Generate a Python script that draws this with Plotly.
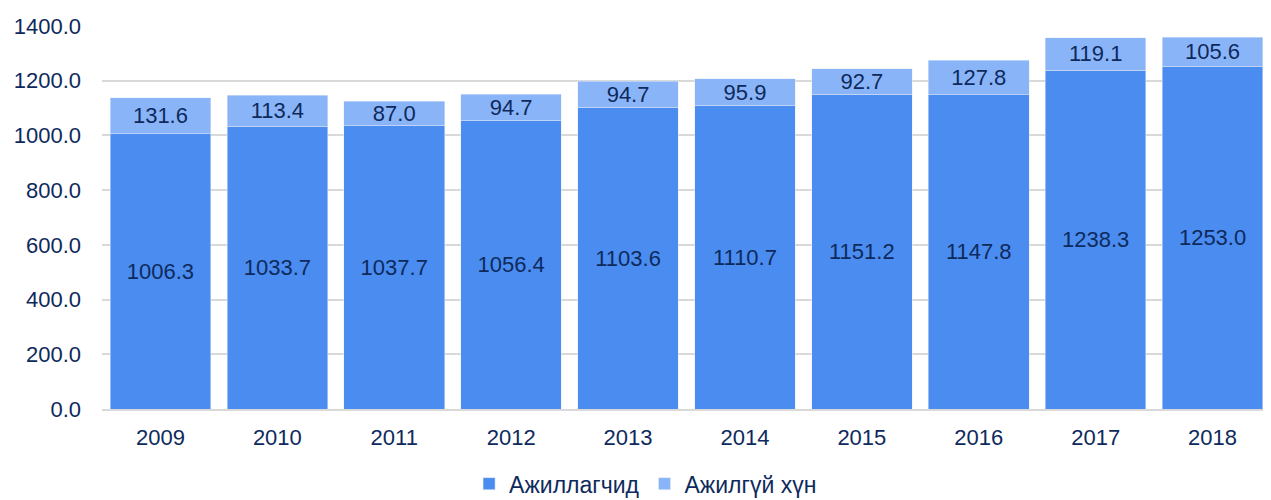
import plotly.graph_objects as go

years = ["2009", "2010", "2011", "2012", "2013", "2014", "2015", "2016", "2017", "2018"]
employed = [1006.3, 1033.7, 1037.7, 1056.4, 1103.6, 1110.7, 1151.2, 1147.8, 1238.3, 1253.0]
unemployed = [131.6, 113.4, 87.0, 94.7, 94.7, 95.9, 92.7, 127.8, 119.1, 105.6]

navy = "#0e2a5c"
font = "Liberation Sans, Arial, sans-serif"

fig = go.Figure()
fig.add_trace(go.Bar(
    x=years, y=employed, name="Ажиллагчид",
    marker=dict(color="#4a8cf0"),
    text=[f"{v:.1f}" for v in employed],
    textposition="inside", insidetextanchor="middle", textangle=0,
    textfont=dict(color=navy, size=22, family=font),
))
fig.add_trace(go.Bar(
    x=years, y=unemployed, name="Ажилгүй хүн",
    marker=dict(color="#8ab4f8"),
    text=[f"{v:.1f}" for v in unemployed],
    textposition="inside", insidetextanchor="middle", textangle=0,
    textfont=dict(color=navy, size=22, family=font),
))

# page body has an 8px margin, so the figure is shrunk to fit the window
fig.update_layout(
    barmode="stack",
    bargap=0.14,
    width=1263, height=492,
    margin=dict(l=94, r=0, t=18, b=91, autoexpand=False),
    plot_bgcolor="white",
    paper_bgcolor="white",
    font=dict(family=font, color=navy, size=22),
    uniformtext=dict(minsize=22, mode="show"),
    legend=dict(orientation="h", x=0.465, xanchor="center", y=-0.195, yanchor="middle",
                font=dict(size=23), itemwidth=30, traceorder="normal"),
    showlegend=True,
)
fig.update_yaxes(range=[0, 1400], dtick=200, tickformat=".1f",
                 showgrid=True, gridcolor="#d9d9d9", gridwidth=2,
                 zeroline=False, ticks="", ticklabelstandoff=20, automargin=False)
fig.update_xaxes(showline=True, linecolor="#d9d9d9", linewidth=2, ticks="",
                 ticklabelstandoff=8, automargin=False)

fig.write_html("out.html")
